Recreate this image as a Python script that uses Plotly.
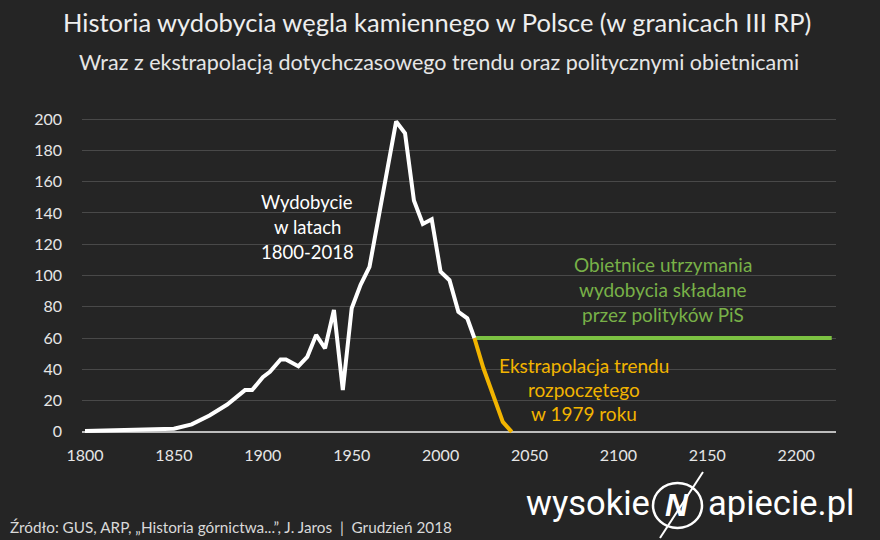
import plotly.graph_objects as go

# Historical hard-coal output (Mt)
years_hist = [1800, 1810, 1820, 1830, 1840, 1850, 1860, 1870, 1880, 1890, 1894,
              1900, 1904, 1910, 1913, 1920, 1925, 1930, 1935, 1940, 1945, 1950,
              1955, 1960, 1975, 1980, 1985, 1990, 1995, 2000, 2005, 2010, 2015, 2019]
output_hist = [0.5, 0.7, 0.9, 1.1, 1.4, 2.0, 4.8, 10.5, 17.5, 26.7, 26.7,
               35.0, 38.4, 46.3, 46.3, 42.0, 48.0, 62.0, 53.4, 78.0, 26.7, 79.0,
               94.0, 105.5, 198.5, 191.0, 148.0, 133.0, 136.0, 102.4, 97.0, 76.8, 72.6, 60.0]

# Trend extrapolation
years_trend = [2019, 2024, 2035, 2040]
output_trend = [60.0, 41.0, 6.4, 0.0]

# Political promises
years_promise = [2019, 2220]
output_promise = [60.0, 60.0]

x_ticks = [1800, 1850, 1900, 1950, 2000, 2050, 2100, 2150, 2200]
y_ticks = [0, 20, 40, 60, 80, 100, 120, 140, 160, 180, 200]

BG = "#252525"
FONT = "Lato, 'Noto Sans', sans-serif"
WHITE = "#ffffff"
GREEN_LINE = "#7cc242"
GREEN_TEXT = "#78b148"
ORANGE = "#f2b400"

# plot area in pixels
L, R, T, B = 82, 44, 116, 105
W, H = 880, 540
PW, PH = W - L - R, H - T - B


def px(xp):
    return (xp - L) / PW


def py(yp):
    return (H - B - yp) / PH


fig = go.Figure()
fig.add_trace(go.Scatter(x=years_promise, y=output_promise, mode="lines",
                         line=dict(color=GREEN_LINE, width=4), hoverinfo="skip"))
fig.add_trace(go.Scatter(x=years_trend, y=output_trend, mode="lines",
                         line=dict(color=ORANGE, width=4), hoverinfo="skip"))
fig.add_trace(go.Scatter(x=years_hist, y=output_hist, mode="lines",
                         line=dict(color=WHITE, width=4), hoverinfo="skip"))

fig.update_layout(
    width=W, height=H,
    paper_bgcolor=BG, plot_bgcolor=BG,
    margin=dict(l=L, r=R, t=T, b=B),
    showlegend=False,
    xaxis=dict(range=[1798.3, 2222.4], tickvals=x_ticks, showgrid=False, zeroline=False,
               showline=False, ticks="", tickfont=dict(color="#e6e6e6", size=16, family=FONT),
               ticklabelstandoff=9, fixedrange=True),
    yaxis=dict(range=[-2, 202], tickvals=y_ticks, showgrid=True, gridcolor="#494949",
               gridwidth=1, zeroline=True, zerolinecolor="#bdbdbd", zerolinewidth=1.5,
               showline=False, ticks="", tickfont=dict(color="#e6e6e6", size=16, family=FONT),
               ticklabelstandoff=19, fixedrange=True),
)


def label(lines, xc, ys, color, size):
    for txt, yp in zip(lines, ys):
        fig.add_annotation(x=px(xc), y=py(yp), xref="paper", yref="paper",
                           xanchor="center", yanchor="middle", text=txt, showarrow=False,
                           font=dict(color=color, size=size, family=FONT))


label(["Wydobycie", "w latach", "1800-2018"], 307, [202, 227, 252], WHITE, 18.5)
label(["Obietnice utrzymania", "wydobycia składane", "przez polityków PiS"], 663,
      [264, 289, 314], GREEN_TEXT, 19)
label(["Ekstrapolacja trendu", "rozpoczętego", "w 1979 roku"], 584,
      [365, 389, 413], ORANGE, 19)

# Title and subtitle
label(["Historia wydobycia węgla kamiennego w Polsce (w granicach III RP)"], 437, [22],
      "#eeeeee", 25.5)
label(["Wraz z ekstrapolacją dotychczasowego trendu oraz politycznymi obietnicami"], 439, [62],
      "#e6e6e6", 21.5)

# Source line
fig.add_annotation(x=px(8), y=py(527), xref="paper", yref="paper", xanchor="left",
                   yanchor="middle",
                   text="Źródło: GUS, ARP, „Historia górnictwa...”, J. Jaros  |  Grudzień 2018",
                   showarrow=False, font=dict(color="#d9d9d9", size=15.3, family=FONT))

# Logo: wysokie(N)apiecie.pl
LOGO_FONT = "'Liberation Sans Narrow', 'Roboto', sans-serif"
fig.add_annotation(x=px(652), y=py(503), xref="paper", yref="paper", xanchor="right",
                   yanchor="middle", text="wysokie", showarrow=False,
                   font=dict(color=WHITE, size=34.5, family=LOGO_FONT))
fig.add_annotation(x=px(706), y=py(503), xref="paper", yref="paper", xanchor="left",
                   yanchor="middle", text="apiecie.pl", showarrow=False,
                   font=dict(color=WHITE, size=34.5, family=LOGO_FONT))
fig.add_annotation(x=px(677), y=py(505), xref="paper", yref="paper", xanchor="center",
                   yanchor="middle", text="<b><i>N</i></b>", showarrow=False,
                   font=dict(color=WHITE, size=32, family="'Liberation Sans', sans-serif"))
fig.add_shape(type="circle", xref="paper", yref="paper",
              x0=px(653), x1=px(702), y0=py(528), y1=py(483),
              line=dict(color=WHITE, width=2.5))
fig.add_shape(type="line", xref="paper", yref="paper",
              x0=px(660), y0=py(538), x1=px(703), y1=py(472),
              line=dict(color=WHITE, width=2))

fig.write_html("out.html",
               config={"displayModeBar": False},
               post_script="document.body.style.margin='0';"
                           "document.body.style.background='%s';" % BG)
